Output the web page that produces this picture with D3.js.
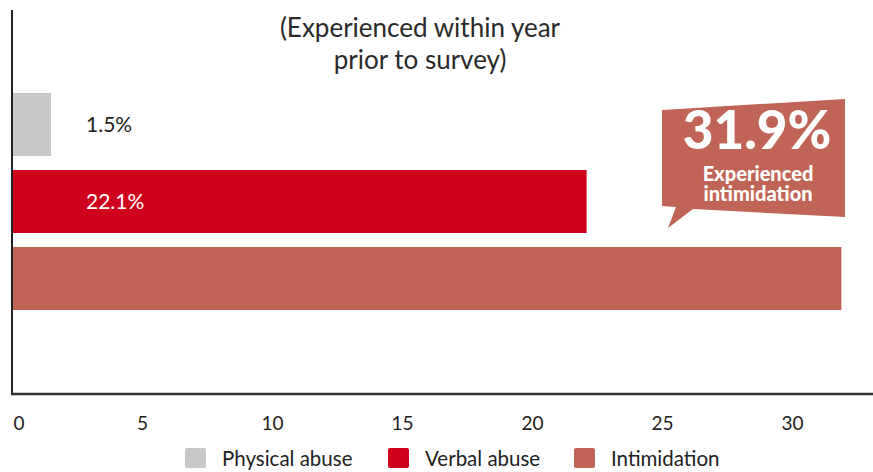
<!DOCTYPE html>
<html><head><meta charset="utf-8">
<script src="https://cdn.jsdelivr.net/npm/d3@7"></script>
<style>body{margin:0;background:#fff}svg{display:block}text{font-family:Lato,"Open Sans",sans-serif}</style>
</head><body>
<svg id="c" width="873" height="472"></svg>
<script>
const categories = ["Physical abuse", "Verbal abuse", "Intimidation"];
const values = [1.5, 22.1, 31.9];
const colors = ["#c8c8c8", "#cf001c", "#c06458"];
const tickValues = [0, 5, 10, 15, 20, 25, 30];
const titleLines = ["(Experienced within year", "prior to survey)"];
const calloutValue = "31.9%";
const calloutLines = ["Experienced", "intimidation"];

const svg = d3.select("#c");
const x = d3.scaleLinear().domain([0, 33]).range([12, 870]);
const y = d3.scaleBand().domain(categories).range([86, 317]).paddingInner(0.182).paddingOuter(0.091);

// bars
svg.selectAll("rect.bar").data(categories).enter().append("rect")
  .attr("class","bar")
  .attr("x", x(0)).attr("y", d => y(d))
  .attr("width", (d,i) => x(values[i]) - x(0))
  .attr("height", y.bandwidth())
  .attr("fill", (d,i) => colors[i]);

// value labels (first two)
[0,1].forEach(i => {
  svg.append("text").attr("x", 86).attr("y", y(categories[i]) + y.bandwidth()/2 + 7)
    .attr("font-size", 21).attr("fill", i === 0 ? "#222" : "#fff")
    .text(values[i] + "%");
});

// axes lines
svg.append("line").attr("x1", 12).attr("x2", 12).attr("y1", 10).attr("y2", 394)
  .attr("stroke", "#222").attr("stroke-width", 2);
svg.append("line").attr("x1", 11).attr("x2", 873).attr("y1", 394).attr("y2", 394)
  .attr("stroke", "#333").attr("stroke-width", 2.5);

// x tick labels
const xAxis = d3.axisBottom(x).tickValues(tickValues).tickSize(0).tickPadding(0).tickFormat(d3.format("d"));
const gx = svg.append("g").attr("transform", "translate(0,416)").call(xAxis);
gx.select(".domain").remove();
gx.selectAll("text").attr("font-size", 19).attr("fill", "#222").attr("font-family", "Lato")
  .attr("dy", "0.72em")
  .attr("text-anchor", d => d === 0 ? "start" : "middle")
  .attr("x", d => d === 0 ? 1 : 0);

// title
titleLines.forEach((t,i) => {
  svg.append("text").attr("x", 420).attr("y", 37 + i*32).attr("text-anchor","middle")
    .attr("font-size", 26).attr("fill", "#2a2a2a").attr("font-family", "Lato").text(t);
});

// callout bubble
const bubble = [[662,110],[845,99],[845,217],[693,209],[668,228],[676,207],[662,206]];
svg.append("path").attr("d", d3.line()(bubble) + "Z").attr("fill", colors[2]);
svg.append("text").attr("x", 757).attr("y", 149).attr("text-anchor","middle")
  .attr("font-size", 53).attr("font-weight", 900).attr("fill", "#fff").text(calloutValue);
const ct = svg.append("text").attr("x", 758).attr("y", 181).attr("text-anchor","middle")
  .attr("font-size", 20).attr("font-weight", 900).attr("fill", "#fff");
calloutLines.forEach((t,i) => {
  ct.append("tspan").attr("x", 758).attr("dy", i === 0 ? 0 : 20).text(t);
});

// legend
const legendX = [185, 388, 574];
const lg = svg.selectAll("g.lg").data(categories).enter().append("g").attr("class","lg")
  .attr("transform", (d,i) => `translate(${legendX[i]},448)`);
lg.append("rect").attr("width", 21).attr("height", 20).attr("rx", 2).attr("fill", (d,i) => colors[i]);
lg.append("text").attr("x", 37).attr("y", 18).attr("font-size", 20.5).attr("fill", "#222").text(d => d);
</script>
</body></html>
